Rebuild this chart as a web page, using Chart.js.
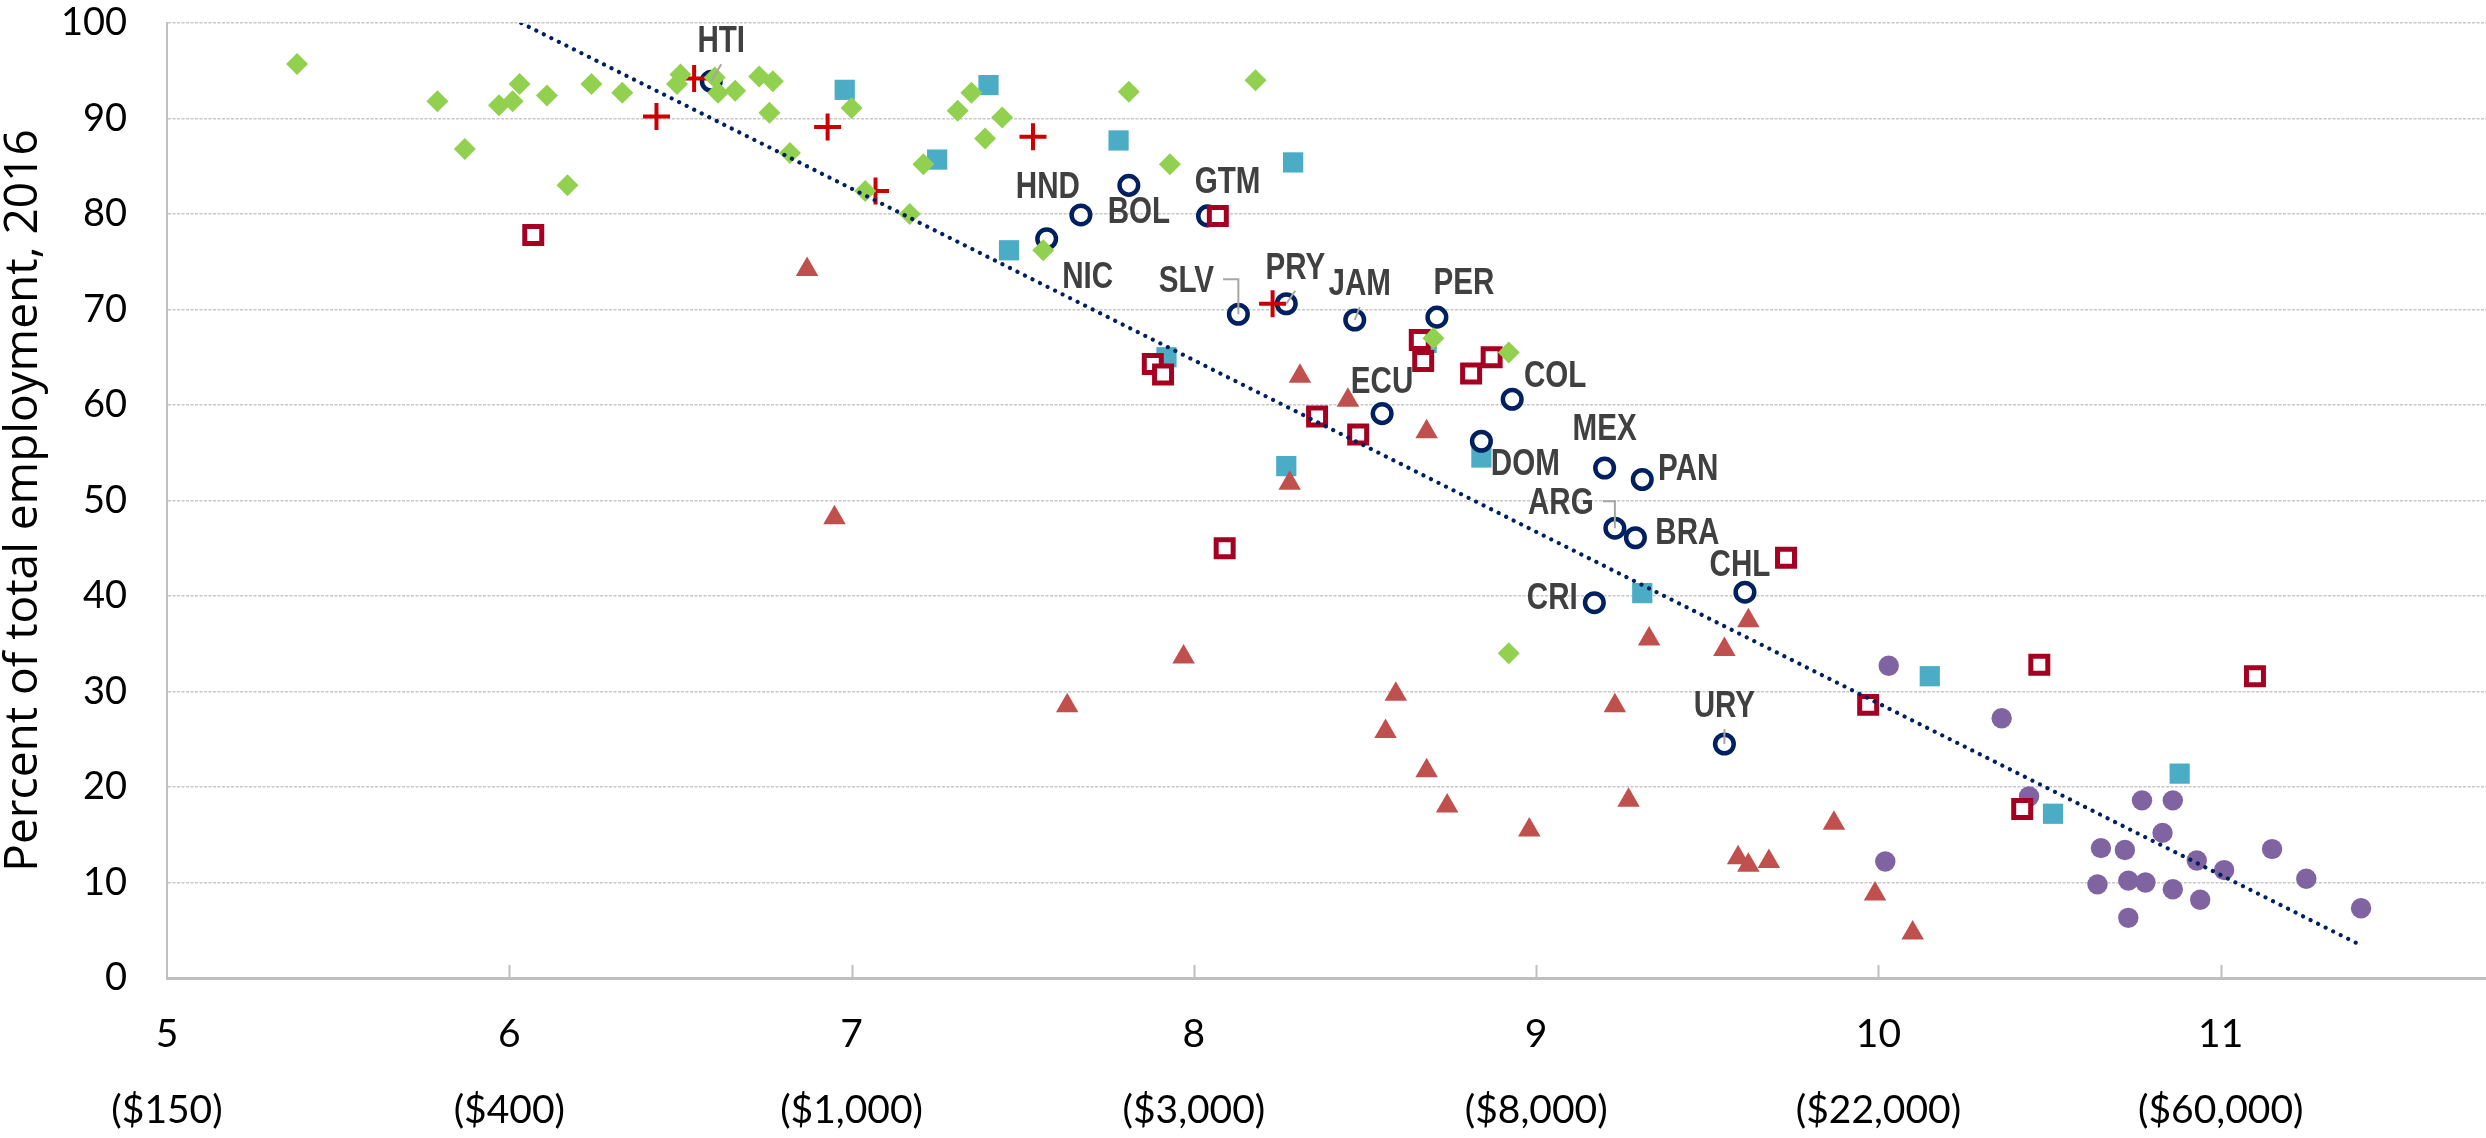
<!DOCTYPE html>
<html>
<head>
<meta charset="utf-8">
<script src="https://cdn.jsdelivr.net/npm/chart.js@4.4.1/dist/chart.umd.min.js"></script>
<style>
  html, body { margin: 0; padding: 0; background: #fff; }
  #wrap { width: 2486px; height: 1138px; }
</style>
</head>
<body>
<div id="wrap"><canvas id="chart" width="2486" height="1138"></canvas></div>
<script>
// x = log of GDP per capita, y = percent of total employment (2016)
const xTicks = [5, 6, 7, 8, 9, 10, 11];
const xMoney = ["($150)", "($400)", "($1,000)", "($3,000)", "($8,000)", "($22,000)", "($60,000)"];

const diamondX = [5.38, 5.79, 5.87, 5.97, 6.01, 6.03, 6.11, 6.17, 6.24, 6.33, 6.50, 6.49, 6.60, 6.61, 6.66, 6.73, 6.77, 6.76, 6.82,
  7.00, 7.04, 7.17, 7.21, 7.31, 7.35, 7.39, 7.44, 7.56, 7.81, 7.93, 8.18, 8.70, 8.92, 8.92];
const diamondY = [95.7, 91.8, 86.8, 91.4, 91.8, 93.6, 92.4, 83.0, 93.6, 92.7, 94.6, 93.6, 94.3, 92.7, 92.9, 94.4, 93.9, 90.6, 86.4,
  91.1, 82.4, 80.0, 85.2, 90.8, 92.7, 87.9, 90.1, 76.2, 92.8, 85.2, 94.0, 67.0, 65.5, 34.0];

const plusX = [6.43, 6.54, 6.93, 7.07, 7.53, 8.23];
const plusY = [90.2, 94.2, 89.1, 82.4, 88.1, 70.6];

const cyanX = [6.98, 7.40, 7.25, 7.78, 8.29, 7.46, 7.92, 8.68, 8.84, 8.27, 9.31, 10.15, 10.88, 10.51];
const cyanY = [93.0, 93.5, 85.7, 87.7, 85.4, 76.2, 65.0, 66.5, 54.5, 53.6, 40.3, 31.6, 21.4, 17.2];

const hollowX = [6.07, 8.07, 8.66, 8.67, 8.81, 8.87, 7.88, 7.91, 8.36, 8.48, 8.09, 9.73, 9.97, 10.47, 11.10, 10.42];
const hollowY = [77.8, 79.8, 66.8, 64.6, 63.3, 65.0, 64.3, 63.2, 58.8, 56.9, 45.0, 44.0, 28.6, 32.8, 31.6, 17.7];

const triX = [6.87, 6.95, 8.31, 8.45, 8.68, 8.28, 9.33, 7.97, 7.63, 8.59, 8.56, 9.23, 8.68, 8.74, 9.27, 8.98,
  9.62, 9.55, 9.87, 9.59, 9.62, 9.68, 9.99, 10.10];
const triY = [74.2, 48.2, 63.0, 60.5, 57.2, 51.8, 35.5, 33.6, 28.5, 29.7, 25.8, 28.5, 21.7, 18.0, 18.6, 15.5,
  37.4, 34.4, 16.2, 12.6, 11.8, 12.2, 8.8, 4.7];

const purpleX = [10.03, 10.36, 10.44, 10.77, 10.86, 10.83, 10.65, 10.72, 10.93, 11.01, 11.15, 11.25, 11.41,
  10.64, 10.73, 10.78, 10.86, 10.94, 10.73, 10.02];
const purpleY = [32.7, 27.2, 19.0, 18.6, 18.6, 15.2, 13.6, 13.4, 12.3, 11.3, 13.5, 10.4, 7.3,
  9.8, 10.2, 10.0, 9.3, 8.2, 6.3, 12.2];

const lacCodes = ["HTI", "NIC", "BOL", "HND", "GTM", "SLV", "PRY", "JAM", "PER", "ECU", "COL", "DOM", "MEX", "PAN",
  "ARG", "BRA", "CRI", "CHL", "URY"];
const lacX = [6.59, 7.57, 7.67, 7.81, 8.04, 8.13, 8.27, 8.47, 8.71, 8.55, 8.93, 8.84, 9.20, 9.31, 9.23, 9.29, 9.17, 9.61, 9.55];
const lacY = [93.9, 77.4, 79.9, 83.0, 79.8, 69.5, 70.6, 68.9, 69.2, 59.1, 60.6, 56.2, 53.4, 52.2, 47.1, 46.1, 39.3, 40.4, 24.5];

const trendX = [6.035, 11.40];
const trendY = [100, 3.6];

// label placement (px offsets from the marker) and leader style
const labelStyle = {
  HTI: { dx: 10, dy: -42, leader: "line" },
  NIC: { dx: 41, dy: 36 },
  BOL: { dx: 58, dy: -5 },
  HND: { dx: -81, dy: 0 },
  GTM: { dx: 20, dy: -36 },
  SLV: { dx: -52, dy: -35, leader: "elbow" },
  PRY: { dx: 9, dy: -38, leader: "line" },
  JAM: { dx: 5, dy: -38, leader: "line" },
  PER: { dx: 27, dy: -36 },
  ECU: { dx: 0, dy: -34 },
  COL: { dx: 43, dy: -25 },
  DOM: { dx: 44, dy: 21 },
  MEX: { dx: 0, dy: -41 },
  PAN: { dx: 46, dy: -12 },
  ARG: { dx: -54, dy: -27, leader: "elbow" },
  BRA: { dx: 52, dy: -7 },
  CRI: { dx: -42, dy: -7 },
  CHL: { dx: -5, dy: -29 },
  URY: { dx: 0, dy: -40, leader: "line" },
};

function pts(xs, ys) {
  return xs.map((x, i) => ({ x: x, y: ys[i] }));
}

const extrasPlugin = {
  id: "extras",
  afterDatasetsDraw(chart) {
    const { ctx, chartArea } = chart;
    const xs = chart.scales.x;
    const ys = chart.scales.y;

    // small tick marks inside the x axis
    ctx.save();
    ctx.strokeStyle = "#BFBFBF";
    ctx.lineWidth = 2;
    xTicks.slice(1).forEach((v) => {
      const px = Math.round(xs.getPixelForValue(v)) + 0.5;
      ctx.beginPath();
      ctx.moveTo(px, chartArea.bottom);
      ctx.lineTo(px, chartArea.bottom - 13);
      ctx.stroke();
    });
    ctx.restore();

    // country labels (narrow bold)
    ctx.save();
    ctx.font = "bold 37px 'Liberation Sans', Arial, sans-serif";
    ctx.textAlign = "center";
    ctx.textBaseline = "alphabetic";
    lacCodes.forEach((code, i) => {
      const s = labelStyle[code];
      const px = xs.getPixelForValue(lacX[i]);
      const py = ys.getPixelForValue(lacY[i]);
      const lx = px + s.dx;
      const ly = py + s.dy;
      const half = (ctx.measureText(code).width * 0.8) / 2;

      if (s.leader) {
        ctx.strokeStyle = "#A6A6A6";
        ctx.lineWidth = 2;
        ctx.beginPath();
        if (s.leader === "elbow") {
          ctx.moveTo(lx + half + 9, ly);
          ctx.lineTo(px, ly);
          ctx.lineTo(px, py);
        } else {
          ctx.moveTo(lx, ly + 25);
          ctx.lineTo(px, py);
        }
        ctx.stroke();
      }

      ctx.fillStyle = "#404040";
      ctx.save();
      ctx.translate(lx, ly + 13);
      ctx.scale(0.8, 1);
      ctx.fillText(code, 0, 0);
      ctx.restore();
    });
    ctx.restore();
  },
};

const ctx = document.getElementById("chart").getContext("2d");
const chart = new Chart(ctx, {
  type: "scatter",
  data: {
    datasets: [
      {
        label: "Trend",
        data: pts(trendX, trendY),
        showLine: true,
        borderColor: "#002060",
        borderWidth: 4.2,
        borderDash: [0.01, 8.4],
        borderCapStyle: "round",
        pointRadius: 0,
        fill: false,
      },
      {
        label: "Diamonds",
        data: pts(diamondX, diamondY),
        pointStyle: "rectRot",
        pointRadius: 11,
        backgroundColor: "#92D050",
        borderWidth: 0,
      },
      {
        label: "Plus",
        data: pts(plusX, plusY),
        pointStyle: "cross",
        pointRadius: 13.5,
        borderColor: "#CC0000",
        borderWidth: 4,
      },
      {
        label: "Hollow squares",
        data: pts(hollowX, hollowY),
        pointStyle: "rect",
        pointRadius: 12,
        backgroundColor: "#FFFFFF",
        borderColor: "#A50021",
        borderWidth: 5,
      },
      {
        label: "LAC",
        data: pts(lacX, lacY),
        pointStyle: "circle",
        pointRadius: 9.3,
        backgroundColor: "#FFFFFF",
        borderColor: "#002060",
        borderWidth: 4.5,
      },
      {
        label: "Triangles",
        data: pts(triX, triY),
        pointStyle: "triangle",
        pointRadius: 13,
        backgroundColor: "#C0504D",
        borderWidth: 0,
      },
      {
        label: "Squares",
        data: pts(cyanX, cyanY),
        pointStyle: "rect",
        pointRadius: 14.3,
        backgroundColor: "#4BACC6",
        borderWidth: 0,
      },
      {
        label: "Circles",
        data: pts(purpleX, purpleY),
        pointStyle: "circle",
        pointRadius: 10.2,
        backgroundColor: "#8064A2",
        borderWidth: 0,
      },
    ],
  },
  options: {
    responsive: false,
    devicePixelRatio: 1,
    animation: false,
    events: [],
    layout: { autoPadding: false, padding: { top: 23, right: 0, bottom: 0, left: 0 } },
    plugins: { legend: { display: false }, tooltip: { enabled: false } },
    scales: {
      x: {
        type: "linear",
        min: 5,
        max: 11.775,
        afterFit: (scale) => {
          scale.height = 160;
          scale.paddingLeft = 0;
          scale.paddingRight = 0;
        },
        afterBuildTicks: (scale) => { scale.ticks = xTicks.map((v) => ({ value: v })); },
        grid: { display: false, drawTicks: false },
        border: { display: true, color: "#BFBFBF", width: 3 },
        ticks: {
          autoSkip: false,
          maxRotation: 0,
          minRotation: 0,
          padding: 18,
          color: "#000",
          font: { family: "Lato, 'Open Sans', sans-serif", size: 39, lineHeight: "76px" },
          callback: (value, index) => [String(value), xMoney[index]],
        },
      },
      y: {
        type: "linear",
        min: 0,
        max: 100,
        afterFit: (scale) => {
          scale.width = 167;
          scale.paddingTop = 0;
          scale.paddingBottom = 0;
        },
        grid: { color: "#C8C8C8", lineWidth: 1.5, drawTicks: false },
        border: { display: true, color: "#BFBFBF", width: 2, dash: [3, 1.5] },
        ticks: {
          stepSize: 10,
          padding: 40,
          color: "#000",
          font: { family: "Lato, 'Open Sans', sans-serif", size: 38 },
        },
        title: {
          display: true,
          text: "Percent of total employment, 2016",
          color: "#000",
          font: { family: "'Open Sans', sans-serif", size: 46, lineHeight: 1 },
          padding: { top: 1, bottom: 0 },
        },
      },
    },
  },
  plugins: [extrasPlugin],
});
</script>
</body>
</html>
